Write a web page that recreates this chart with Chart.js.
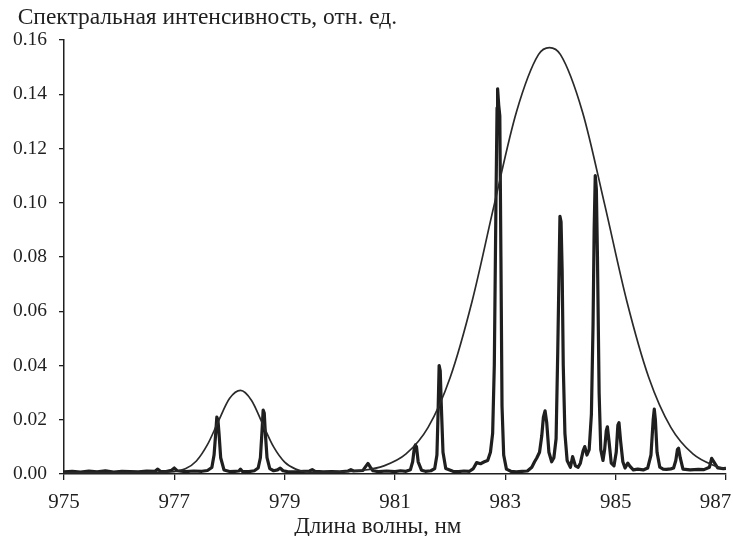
<!DOCTYPE html>
<html><head><meta charset="utf-8">
<script src="https://cdn.jsdelivr.net/npm/chart.js@4.4.0/dist/chart.umd.min.js"></script>
<style>html,body{margin:0;padding:0;background:#fff;}</style>
</head><body>
<canvas id="c" width="733" height="536"></canvas>
<script>
const yTitle = 'Спектральная интенсивность, отн. ед.';
const xTitle = 'Длина волны, нм';
const xTickValues = [975, 977, 979, 981, 983, 985, 987];
const yTickValues = [0, 0.02, 0.04, 0.06, 0.08, 0.10, 0.12, 0.14, 0.16];

// thin envelope line: [wavelength, intensity]
const envelope = [
  [975.0,0.0005],[976.0,0.0005],[976.6,0.0006],[977.0,0.0009],[977.2,0.0019],[977.4,0.0048],
  [977.6,0.0108],[977.8,0.0195],[978.0,0.0278],[978.2,0.0308],[978.4,0.0271],[978.6,0.0185],
  [978.8,0.0100],[979.0,0.0044],[979.2,0.0018],[979.4,0.0008],[979.7,0.0006],[980.0,0.0008],
  [980.4,0.0013],[980.8,0.0030],[981.2,0.0074],[981.6,0.0172],[982.0,0.0356],[982.4,0.0639],
  [982.8,0.0994],[983.2,0.1334],[983.6,0.1546],[983.8,0.1572],[984.0,0.1546],[984.4,0.1334],
  [984.8,0.0994],[985.2,0.0639],[985.6,0.0356],[986.0,0.0172],[986.4,0.0074],[986.8,0.0030],
  [987.0,0.0019]
];

// thick measured spectrum: [wavelength, intensity]
const spectrum = [
  [975.00,0.0008],[975.15,0.0010],[975.30,0.0007],[975.45,0.0011],[975.60,0.0008],[975.75,0.0012],
  [975.90,0.0007],[976.05,0.0010],[976.20,0.0009],[976.35,0.0008],[976.50,0.0011],[976.65,0.0010],
  [976.70,0.0018],[976.75,0.0009],[976.85,0.0009],[976.95,0.0014],[977.00,0.0022],[977.05,0.0012],
  [977.20,0.0009],[977.35,0.0011],[977.50,0.0010],[977.60,0.0013],[977.68,0.0024],[977.72,0.0070],
  [977.75,0.0150],[977.77,0.0210],[977.79,0.0200],[977.81,0.0150],[977.84,0.0060],[977.90,0.0015],
  [978.00,0.0009],[978.10,0.0010],[978.17,0.0011],[978.20,0.0018],[978.23,0.0010],[978.35,0.0009],
  [978.45,0.0012],[978.52,0.0022],[978.56,0.0060],[978.59,0.0160],[978.61,0.0236],[978.63,0.0225],
  [978.65,0.0150],[978.68,0.0060],[978.73,0.0020],[978.80,0.0012],[978.87,0.0015],[978.92,0.0022],
  [978.97,0.0012],[979.05,0.0009],[979.20,0.0008],[979.35,0.0010],[979.45,0.0011],[979.50,0.0016],
  [979.55,0.0010],[979.70,0.0008],[979.85,0.0009],[980.00,0.0008],[980.15,0.0011],[980.20,0.0016],
  [980.25,0.0011],[980.35,0.0012],[980.42,0.0013],[980.47,0.0028],[980.51,0.0039],[980.55,0.0026],
  [980.60,0.0012],[980.70,0.0009],[980.85,0.0011],[981.00,0.0009],[981.10,0.0012],[981.20,0.0010],
  [981.28,0.0016],[981.32,0.0045],[981.35,0.0095],[981.37,0.0107],[981.39,0.0100],[981.42,0.0045],
  [981.48,0.0014],[981.55,0.0010],[981.65,0.0012],[981.72,0.0020],[981.76,0.0070],[981.78,0.0220],
  [981.80,0.0400],[981.82,0.0380],[981.84,0.0250],[981.87,0.0080],[981.92,0.0020],[982.05,0.0010],
  [982.15,0.0009],[982.25,0.0011],[982.35,0.0010],[982.42,0.0020],[982.48,0.0042],[982.55,0.0038],
  [982.62,0.0045],[982.68,0.0050],[982.73,0.0080],[982.77,0.0150],[982.80,0.0400],[982.83,0.1000],
  [982.85,0.1350],[982.86,0.1420],[982.88,0.1360],[982.90,0.1320],[982.92,0.0800],[982.94,0.0250],
  [982.97,0.0070],[983.02,0.0018],[983.10,0.0010],[983.20,0.0008],[983.30,0.0010],[983.40,0.0011],
  [983.48,0.0025],[983.53,0.0045],[983.57,0.0059],[983.62,0.0080],[983.66,0.0140],[983.69,0.0210],
  [983.72,0.0233],[983.75,0.0190],[983.79,0.0080],[983.84,0.0045],[983.88,0.0060],[983.92,0.0130],
  [983.95,0.0450],[983.97,0.0700],[983.99,0.0950],[984.01,0.0930],[984.03,0.0750],[984.05,0.0400],
  [984.08,0.0150],[984.12,0.0050],[984.18,0.0025],[984.22,0.0064],[984.27,0.0030],[984.32,0.0025],
  [984.36,0.0040],[984.41,0.0085],[984.44,0.0101],[984.48,0.0070],[984.52,0.0090],[984.56,0.0220],
  [984.59,0.0550],[984.61,0.0900],[984.63,0.1100],[984.65,0.1050],[984.67,0.0800],[984.70,0.0300],
  [984.73,0.0090],[984.77,0.0050],[984.80,0.0090],[984.83,0.0160],[984.85,0.0174],[984.88,0.0120],
  [984.92,0.0040],[984.97,0.0030],[985.01,0.0080],[985.04,0.0180],[985.06,0.0189],[985.09,0.0120],
  [985.13,0.0045],[985.17,0.0022],[985.22,0.0040],[985.26,0.0028],[985.32,0.0015],[985.40,0.0018],
  [985.50,0.0015],[985.58,0.0022],[985.64,0.0070],[985.68,0.0200],[985.70,0.0239],[985.72,0.0200],
  [985.75,0.0080],[985.80,0.0025],[985.86,0.0018],[985.92,0.0017],[986.00,0.0019],[986.05,0.0022],
  [986.09,0.0050],[986.12,0.0090],[986.14,0.0095],[986.17,0.0060],[986.22,0.0018],[986.35,0.0015],
  [986.50,0.0017],[986.60,0.0016],[986.70,0.0025],[986.74,0.0058],[986.78,0.0045],[986.85,0.0022],
  [986.95,0.0020],[987.00,0.0021]
];

const NB = '\u00a0';
const serif = 'Liberation Serif';
const ink = '#1f1f1f';

new Chart(document.getElementById('c').getContext('2d'), {
  type: 'line',
  data: {
    datasets: [
      {
        label: 'spectrum',
        data: spectrum.map(p => ({x: p[0], y: p[1]})),
        borderColor: ink, borderWidth: 3.2, pointRadius: 0, tension: 0,
        borderJoinStyle: 'round', fill: false, order: 2
      },
      {
        label: 'envelope',
        data: envelope.map(p => ({x: p[0], y: p[1]})),
        borderColor: '#2a2a2a', borderWidth: 1.7, pointRadius: 0,
        cubicInterpolationMode: 'monotone', fill: false, order: 1
      }
    ]
  },
  options: {
    responsive: false, animation: false, devicePixelRatio: 1,
    layout: {padding: {left: 0, right: 7, top: 0, bottom: 0}},
    plugins: {
      legend: {display: false},
      tooltip: {enabled: false},
      title: {
        display: true, text: NB.repeat(3) + yTitle, align: 'start', color: ink,
        font: {family: serif, size: 23.5, weight: 'normal'},
        padding: {top: 4, bottom: 7.8}
      }
    },
    scales: {
      x: {
        type: 'linear', min: 975, max: 987,
        afterBuildTicks: s => { s.ticks = xTickValues.map(v => ({value: v})); },
        afterFit: s => { s.height = 62; s.paddingLeft = 0; s.paddingRight = 0; },
        ticks: {
          color: ink, font: {family: serif, size: 21}, padding: 10,
          maxRotation: 0, autoSkip: false,
          callback: v => (v === 987 ? '987' + NB.repeat(4) : String(v))
        },
        grid: {display: true, drawOnChartArea: false, drawTicks: true, tickLength: 6, color: ink, lineWidth: 1.3},
        border: {display: true, color: ink, width: 1.5},
        title: {
          display: true, text: xTitle + NB.repeat(6), color: ink,
          font: {family: serif, size: 23}, padding: {top: 0, bottom: -5}
        }
      },
      y: {
        type: 'linear', min: 0, max: 0.16,
        afterBuildTicks: s => { s.ticks = yTickValues.map(v => ({value: v})); },
        afterFit: s => { s.width = 64; s.paddingTop = 0; s.paddingBottom = 0; },
        ticks: {
          color: ink, font: {family: serif, size: 19.5}, padding: 12,
          callback: v => Number(v).toFixed(2)
        },
        grid: {display: true, drawOnChartArea: false, drawTicks: true, tickLength: 5, color: ink, lineWidth: 1.3},
        border: {display: true, color: ink, width: 1.5}
      }
    }
  }
});
</script>
</body></html>
